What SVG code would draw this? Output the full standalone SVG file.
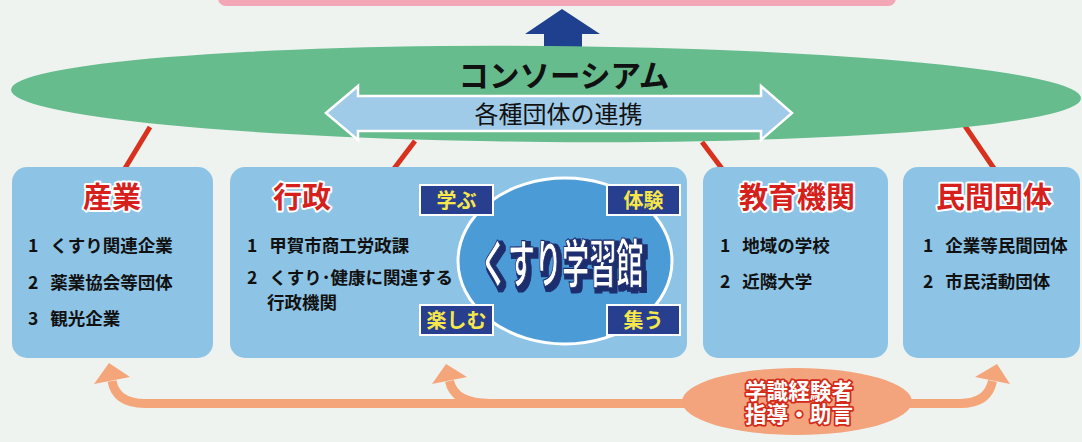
<svg xmlns="http://www.w3.org/2000/svg" width="1082" height="442" viewBox="0 0 1082 442">
<style>
.box{fill:#8dc4e5}
.title{font-family:"Noto Sans CJK JP","Liberation Sans",sans-serif;font-weight:bold;font-size:29px;fill:#d6201c;stroke:#ffffff;stroke-width:4px;paint-order:stroke;stroke-linejoin:round;text-anchor:middle}
.item{font-family:"Noto Sans CJK JP","Liberation Sans",sans-serif;font-weight:bold;font-size:17.5px;fill:#111111;white-space:pre}
.red{stroke:#d8321f;stroke-width:5;fill:none}
.band{stroke:#f5a57a;stroke-width:9;fill:none}
.head{fill:#f5a57a}
.lbl{fill:#283e8e;stroke:#ffffff;stroke-width:2}
.lbltxt{font-family:"Noto Sans CJK JP","Liberation Sans",sans-serif;font-weight:bold;font-size:20px;fill:#f6e84a;text-anchor:middle}
.adv{font-family:"Noto Sans CJK JP","Liberation Sans",sans-serif;font-weight:bold;font-size:21.6px;fill:#ffffff;stroke:#d42a1a;stroke-width:3.5px;paint-order:stroke;stroke-linejoin:round}
</style>
<defs>
<filter id="shadow3d" x="-10%" y="-20%" width="120%" height="150%">
<feMorphology in="SourceAlpha" operator="dilate" radius="2" result="d"/>
<feOffset in="d" dx="3" dy="3" result="o"/>
<feFlood flood-color="#1d2d6e"/>
<feComposite in2="o" operator="in" result="s"/>
<feMerge><feMergeNode in="s"/><feMergeNode in="SourceGraphic"/></feMerge>
</filter>
</defs>
<rect x="0" y="0" width="1082" height="442" fill="#eef3ef"/>
<g id="goal">
<rect x="218" y="-20" width="678" height="26" rx="8" fill="#f3a6b5"/>
</g>
<g id="connectors">
<line class="red" x1="150" y1="127" x2="124" y2="170"/>
<line class="red" x1="415" y1="141" x2="393" y2="170"/>
<line class="red" x1="702" y1="142" x2="723" y2="170"/>
<line class="red" x1="965" y1="126" x2="995" y2="170"/>
<polygon points="562,9 600,34 582,34 582,48 544,48 544,34 525,34" fill="#1f3f8f"/>
<path class="band" d="M700 403.5 H145 Q116 403.5 112 381"/>
<path class="band" d="M490 403.5 Q454 403.5 449.5 381"/>
<path class="band" d="M900 403.5 H960 Q988 403.5 992.5 381"/>
<polygon class="head" points="109,363 130,377 94,384"/>
<polygon class="head" points="446,364 467,377 432,384"/>
<polygon class="head" points="997,364 1010,384 975,377"/>
</g>
<g id="consortium">
<ellipse cx="546" cy="94" rx="535" ry="48" fill="#67bc8e" transform="rotate(0.45 546 94)"/>
<text x="564" y="87" font-family="'Noto Sans CJK JP','Liberation Sans',sans-serif" font-weight="bold" font-size="30.5" fill="#111111" text-anchor="middle">コンソーシアム</text>
<polygon points="326,113 358,86 358,96 761,96 761,86 792,113 761,140 761,131 358,131 358,140" fill="#9fcbe9" stroke="#ffffff" stroke-width="2.5" stroke-linejoin="miter"/>
<text x="558.5" y="122.5" font-family="'Noto Sans CJK JP','Liberation Sans',sans-serif" font-size="24" fill="#111111" text-anchor="middle">各種団体の連携</text>
</g>
<g id="sangyo">
<rect class="box" x="12" y="167" width="201" height="191" rx="15"/>
<text class="title" x="112" y="208">産業</text>
<text class="item" x="28" y="252" xml:space="preserve">1   くすり関連企業</text>
<text class="item" x="28" y="289" xml:space="preserve">2   薬業協会等団体</text>
<text class="item" x="28" y="325" xml:space="preserve">3   観光企業</text>
</g>
<g id="gyosei">
<rect class="box" x="230" y="167" width="457" height="191" rx="15"/>
<text class="title" x="302" y="208">行政</text>
<text class="item" x="247" y="252" xml:space="preserve">1   甲賀市商工労政課</text>
<text class="item" x="247" y="284" xml:space="preserve">2   くすり･健康に関連する</text>
<text class="item" x="267" y="309">行政機関</text>
</g>
<g id="kusuri">
<ellipse cx="565" cy="261" rx="107" ry="83" fill="#4b9bd6" stroke="#ffffff" stroke-width="3"/>
<text x="562" y="283" filter="url(#shadow3d)" font-family="'Noto Sans CJK JP','Liberation Sans',sans-serif" font-weight="bold" font-size="52" fill="#ffffff" stroke="#1d2d6e" stroke-width="1.2" text-anchor="middle" textLength="163" lengthAdjust="spacingAndGlyphs">くすり学習館</text>
</g>
<g id="manabu">
<rect class="lbl" x="420" y="185" width="73" height="30"/>
<text class="lbltxt" x="456.5" y="207.5">学ぶ</text>
</g>
<g id="taiken">
<rect class="lbl" x="607" y="185" width="73" height="30"/>
<text class="lbltxt" x="643.5" y="207.5">体験</text>
</g>
<g id="tanoshimu">
<rect class="lbl" x="420" y="305" width="73" height="30"/>
<text class="lbltxt" x="456.5" y="327.5">楽しむ</text>
</g>
<g id="tsudou">
<rect class="lbl" x="607" y="305" width="73" height="30"/>
<text class="lbltxt" x="643.5" y="327.5">集う</text>
</g>
<g id="kyoiku">
<rect class="box" x="703" y="167" width="185" height="191" rx="15"/>
<text class="title" x="797" y="208">教育機関</text>
<text class="item" x="720" y="252" xml:space="preserve">1   地域の学校</text>
<text class="item" x="720" y="288" xml:space="preserve">2   近隣大学</text>
</g>
<g id="minkan">
<rect class="box" x="903" y="167" width="177" height="191" rx="15"/>
<text class="title" x="994" y="208">民間団体</text>
<text class="item" x="923" y="252" xml:space="preserve">1   企業等民間団体</text>
<text class="item" x="923" y="288" xml:space="preserve">2   市民活動団体</text>
</g>
<g id="gakushiki">
<ellipse cx="797" cy="401.5" rx="115" ry="33.5" fill="#f3a47c"/>
<text class="adv"><tspan x="745" y="398.5">学識経験者</tspan><tspan x="745" y="422">指導・助言</tspan></text>
</g>
</svg>
